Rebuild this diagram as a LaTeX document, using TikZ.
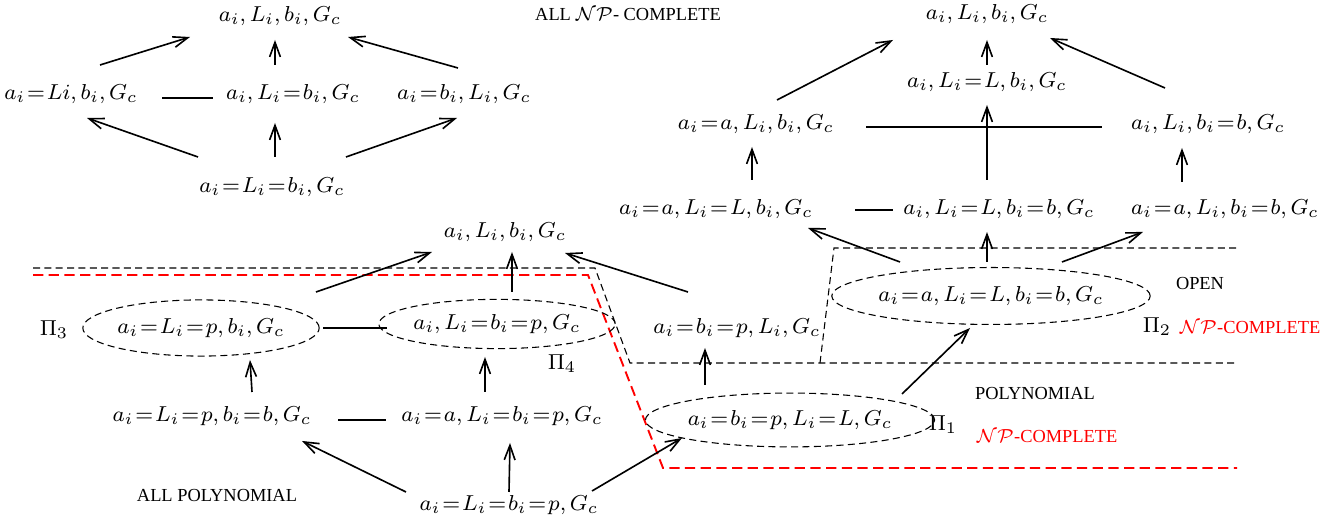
\documentclass[tikz,border=0pt]{standalone}
\usepackage{amsmath, amssymb}
\usepackage[no-math]{fontspec}
\setmainfont{Liberation Serif}
\usepackage{tikz}
\usetikzlibrary{positioning,arrows.meta,shapes.geometric,calc}

\thickmuskip=1.5mu plus 1mu

\begin{document}
\begin{tikzpicture}[
  x=0.013cm, y=-0.013cm,
  font=\fontsize{8}{10}\selectfont,
  arr/.style={semithick, -{Straight Barb[length=1.9mm,width=1.4mm]}},
  lnk/.style={semithick},
  st/.style={inner sep=1pt},
  oval/.style={draw, ellipse, inner sep=0pt, dash pattern=on 2.6pt off 1.6pt},
  lbl/.style={font=\fontsize{6.8}{8}\selectfont},
  bnd/.style={dash pattern=on 2.6pt off 1.6pt},
  rbnd/.style={red, line width=0.7pt, dash pattern=on 3.8pt off 2pt},
]
\useasboundingbox (0,0) rectangle (1341,519);

% all NP-complete, left half
\node[st] (t1) at (280,16)  {$a_i, L_i, b_i, G_c$};
\node[st] (l1) at (71,94)   {$a_i=Li, b_i, G_c$};
\node[st] (m1) at (293,94)  {$a_i, L_i=b_i,G_c$};
\node[st] (r1) at (464,94)  {$a_i=b_i, L_i, G_c$};
\node[st] (b1) at (272,187) {$a_i=L_i=b_i, G_c$};
\node[lbl] (npall) at (628,14) {ALL $\mathcal{NP}$- COMPLETE};

\draw[arr] ($(l1)+(29,-29)$) -- ($(t1)+(-90,21)$);
\draw[arr] ($(m1)+(-18,-29)$) -- ($(t1)+(-5,24)$);
\draw[arr] ($(r1)+(-6,-26)$) -- ($(t1)+(68,21)$);
\draw[lnk] ($(l1)+(91,4)$) -- ($(m1)+(-80,4)$);
\draw[arr] ($(b1)+(-74,-30)$) -- ($(l1)+(16,24)$);
\draw[arr] ($(b1)+(3,-30)$) -- ($(m1)+(-18,29)$);
\draw[arr] ($(b1)+(74,-30)$) -- ($(r1)+(-7,24)$);

% right half
\node[st] (t2) at (987,14)   {$a_i, L_i, b_i, G_c$};
\node[st] (m2) at (987,82)   {$a_i, L_i=L, b_i, G_c$};
\node[st] (l2) at (756,124)  {$a_i=a, L_i, b_i, G_c$};
\node[st] (r2) at (1208,124) {$a_i, L_i, b_i=b, G_c$};
\node[st] (l3) at (716,209)  {$a_i=a, L_i=L, b_i, G_c$};
\node[st] (m3) at (999,209)  {$a_i, L_i=L, b_i=b, G_c$};
\node[st] (r3) at (1225,209) {$a_i=a, L_i, b_i=b, G_c$};

\draw[arr] ($(l2)+(21,-24)$) -- ($(t2)+(-94,26)$);
\draw[arr] ($(m2)+(0,-17)$) -- ($(t2)+(0,26)$);
\draw[arr] ($(r2)+(-43,-36)$) -- ($(t2)+(63,24)$);
\draw[lnk] ($(l2)+(110,3)$) -- ($(r2)+(-106,3)$);
\draw[arr] ($(m3)+(-12,-29)$) -- ($(m2)+(0,23)$);
\draw[arr] ($(l3)+(36,-29)$) -- ($(l2)+(-4,23)$);
\draw[arr] ($(r3)+(-43,-27)$) -- ($(r2)+(-26,24)$);
\draw[lnk] ($(l3)+(139,1)$) -- ($(m3)+(-106,1)$);

% boundaries
\coordinate (p1) at (33,268);
\coordinate (p2) at (595,268);
\coordinate (p3) at (630,363);
\coordinate (p4) at (1237,363);
\coordinate (p5) at (820,363);
\coordinate (p6) at (834,248);
\coordinate (p7) at (1237,248);
\coordinate (q1) at (33,275);
\coordinate (q2) at (588,275);
\coordinate (q3) at (663,468);
\coordinate (q4) at (1237,468);
\draw[bnd] (p1) -- (p2) -- (p3) -- (p4);
\draw[bnd] (p5) -- (p6) -- (p7);
\draw[rbnd] (q1) -- (q2) -- (q3) -- (q4);

% lower part
\node[st] (t4) at (505,232) {$a_i, L_i, b_i, G_c$};
\node[oval, minimum width=3.0cm, minimum height=0.73cm] (e3) at (201,328) {$a_i=L_i=p, b_i, G_c$};
\node[oval, minimum width=2.8cm, minimum height=0.64cm] (e4) at (497,324) {$a_i, L_i=b_i=p, G_c$};
\node (pi3) at (54,330) {$\Pi_3$};
\node (pi4) at (562,364) {$\Pi_4$};
\node[st] (b3) at (212,416) {$a_i=L_i=p, b_i=b, G_c$};
\node[st] (b4) at (502,416) {$a_i=a, L_i=b_i=p, G_c$};
\node[st] (bot) at (509,505) {$a_i=L_i=b_i=p, G_c$};
\node[lbl] (allpoly) at (217,496) {ALL POLYNOMIAL};

\draw[arr] ($(e3)+(115,-36)$) -- ($(t4)+(-73,20)$);
\draw[arr] ($(e4)+(15,-32)$) -- ($(t4)+(7,20)$);
\draw[lnk] ($(e3)+(122,0)$) -- ($(e4)+(-110,4)$);
\draw[arr] ($(b3)+(40,-24)$) -- ($(e3)+(49,32)$);
\draw[arr] ($(b4)+(-17,-24)$) -- ($(e4)+(-12,33)$);
\draw[lnk] ($(b3)+(126,4)$) -- ($(b4)+(-116,4)$);
\draw[arr] ($(bot)+(-103,-13)$) -- ($(b3)+(90,25)$);
\draw[arr] ($(bot)+(0,-13)$) -- ($(b4)+(8,27)$);

\node[st] (mid) at (737,328) {$a_i=b_i=p, L_i, G_c$};
\node[oval, minimum width=3.6cm, minimum height=0.7cm] (e1) at (790,420) {$a_i=b_i=p, L_i=L, G_c$};
\node (pi1) at (943,425) {$\Pi_1$};
\node[lbl, red] (npc1) at (1047,436) {$\mathcal{NP}$-COMPLETE};
\node[lbl] (poly) at (1035,394) {POLYNOMIAL};
\node[oval, minimum width=4.1cm, minimum height=0.74cm] (e2) at (991,296) {$a_i=a, L_i=L, b_i=b, G_c$};
\node (pi2) at (1157,327) {$\Pi_2$};
\node[lbl, red] (npc2) at (1250,327) {$\mathcal{NP}$-COMPLETE};
\node[lbl] (open) at (1200,284) {OPEN};

\draw[arr] ($(mid)+(-49,-36)$) -- ($(t4)+(60,21)$);
\draw[arr] ($(bot)+(83,-14)$) -- ($(e1)+(-108,18)$);
\draw[arr] ($(e1)+(-85,-35)$) -- ($(mid)+(-32,20)$);
\draw[arr] ($(e1)+(112,-26)$) -- ($(e2)+(-21,32)$);
\draw[arr] ($(e2)+(-91,-34)$) -- ($(l3)+(92,19)$);
\draw[arr] ($(e2)+(-4,-34)$) -- ($(m3)+(-12,23)$);
\draw[arr] ($(e2)+(71,-34)$) -- ($(r3)+(-82,23)$);
\end{tikzpicture}
\end{document}
